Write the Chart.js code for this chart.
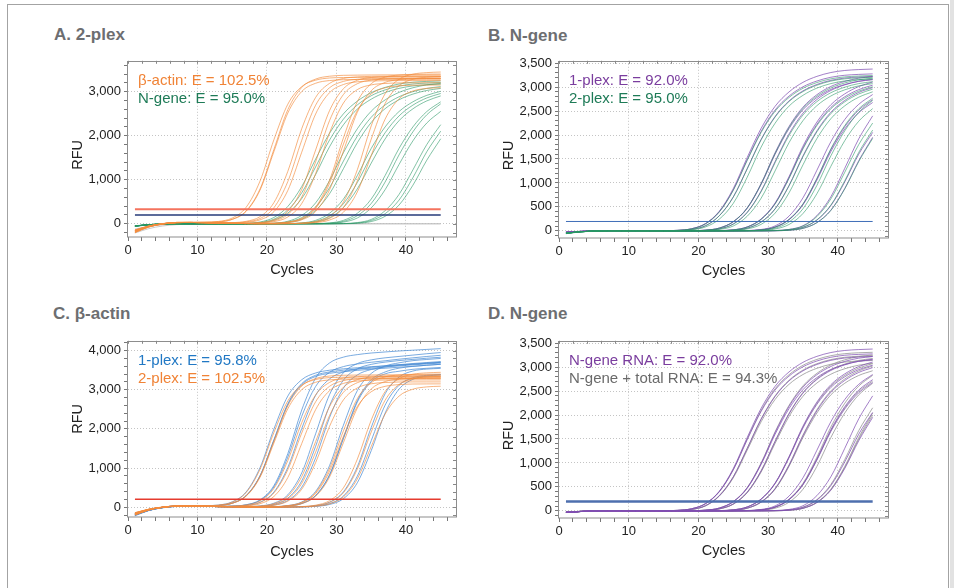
<!DOCTYPE html>
<html>
<head>
<meta charset="utf-8">
<title>qPCR amplification curves</title>
<script src="https://cdn.jsdelivr.net/npm/chart.js@4.4.1/dist/chart.umd.min.js"></script>
<style>
  html, body { margin: 0; padding: 0; background: #fff; }
  body { width: 954px; height: 588px; position: relative; overflow: hidden; font-family: "Liberation Sans", Arial, sans-serif; }
  .frame { position: absolute; left: 7px; top: 4px; width: 942px; height: 640px; border: 1.5px solid #a3a3a3; box-sizing: border-box; }
  .edge { position: absolute; left: 950px; top: 0; width: 4px; height: 588px; background: #e2e2e2; }
  .ttl { position: absolute; font-weight: bold; font-size: 17px; line-height: 17px; color: #6d6e71; white-space: nowrap; }
  canvas { position: absolute; }
</style>
</head>
<body>
<div class="frame"></div>
<div class="edge"></div>
<div class="ttl" style="left:54px;top:26px">A. 2-plex</div>
<div class="ttl" style="left:488px;top:27px">B. N-gene</div>
<div class="ttl" style="left:53px;top:305px">C. β-actin</div>
<div class="ttl" style="left:488px;top:305px">D. N-gene</div>
<canvas id="chartA" width="410" height="240" style="left:60px;top:50px"></canvas>
<canvas id="chartB" width="411" height="241" style="left:491px;top:50px"></canvas>
<canvas id="chartC" width="410" height="242" style="left:60px;top:330px"></canvas>
<canvas id="chartD" width="411" height="241" style="left:491px;top:330px"></canvas>
<script>
// ================================
// DATOS: ciclos y RFU de cada curva
// ================================
const cycles = [1,3,5,7,9,11,13,15,17,19,21,23,25,27,29,31,33,35,37,39,41,43,45];

// β-actin, 2-plex (paneles A y C)
const bActin2plex = [
  [-170,-60,0,30,32,37,53,130,375,970,1910,2715,3115,3260,3310,3320,3325,3325,3328,3330,3330,3330,3330],
  [-140,-50,5,30,33,34,43,100,282,765,1640,2515,3003,3190,3252,3271,3277,3278,3279,3280,3280,3280,3280],
  [-200,-75,-5,25,30,34,44,102,291,790,1690,2590,3095,3285,3350,3370,3375,3378,3380,3380,3380,3380,3380],
  [-160,-55,0,30,30,28,19,26,56,162,481,1191,2159,2868,3187,3299,3333,3347,3350,3350,3350,3350,3350],
  [-150,-55,0,28,30,26,18,22,43,120,365,959,1894,2692,3088,3232,3279,3294,3298,3300,3300,3300,3300],
  [-180,-65,-5,25,30,25,18,19,33,89,275,758,1625,2492,2976,3162,3223,3242,3248,3250,3250,3250,3250],
  [-160,-55,0,30,30,25,15,13,14,28,91,283,782,1675,2568,3066,3258,3321,3340,3347,3350,3350,3350],
  [-140,-50,5,30,30,25,15,12,11,21,68,212,608,1406,2341,2935,3180,3262,3288,3296,3300,3300,3300],
  [-190,-70,-5,25,30,25,15,11,9,16,49,155,460,1138,2063,2741,3046,3153,3185,3198,3200,3200,3200],
  [-160,-55,0,30,30,25,15,10,5,3,12,39,124,376,988,1951,2773,3181,3329,3377,3393,3398,3400],
  [-150,-55,0,30,30,25,15,10,5,3,9,28,90,279,770,1650,2530,3021,3210,3272,3291,3297,3300],
  [-200,-70,-5,25,30,25,15,10,5,3,11,36,115,349,916,1809,2571,2949,3087,3131,3146,3149,3150],
  [-170,-60,0,30,30,25,15,10,5,0,0,4,17,52,167,495,1226,2223,2953,3281,3396,3432,3445],
  [-150,-55,0,30,30,25,15,10,5,0,0,3,12,39,122,370,973,1922,2732,3134,3280,3328,3343],
  [-190,-70,-5,25,30,25,15,10,5,0,0,3,8,26,85,262,723,1550,2376,2837,3014,3073,3090]
];

// β-actin, 1-plex (panel C)
const bActin1plex = [
  [-200,-80,-10,25,32,38,55,137,390,1011,1997,2839,3256,3428,3498,3534,3562,3590,3610,3635,3655,3680,3700],
  [-160,-65,-5,28,30,34,44,104,297,805,1724,2644,3157,3369,3454,3499,3530,3550,3580,3610,3635,3660,3680],
  [-220,-85,-15,20,28,34,44,103,294,798,1709,2621,3130,3340,3420,3460,3495,3525,3550,3575,3600,3625,3650],
  [-180,-70,-5,25,30,25,20,29,63,187,553,1369,2482,3298,3684,3833,3897,3938,3965,3990,4010,4030,4050],
  [-170,-65,-5,28,30,25,19,27,60,175,517,1280,2320,3083,3446,3591,3658,3702,3740,3780,3815,3850,3880],
  [-200,-80,-10,25,30,25,18,23,45,127,387,1017,2009,2856,3276,3454,3529,3575,3610,3640,3670,3695,3720],
  [-180,-70,-5,28,30,25,15,13,15,32,102,317,875,1875,2875,3433,3668,3763,3815,3851,3885,3920,3950],
  [-160,-60,0,30,30,25,15,12,12,23,75,234,672,1555,2589,3246,3532,3648,3706,3745,3775,3805,3830],
  [-210,-80,-10,25,30,25,15,11,9,17,54,172,510,1262,2289,3040,3378,3517,3584,3625,3650,3675,3700],
  [-190,-75,-5,25,30,25,15,10,5,3,13,42,133,404,1061,2095,2977,3415,3605,3687,3743,3773,3800],
  [-170,-65,0,28,30,25,15,10,5,3,10,30,97,300,828,1775,2722,3250,3454,3551,3596,3627,3650],
  [-200,-75,-10,25,30,25,15,10,5,3,10,30,95,296,817,1751,2684,3205,3406,3472,3522,3548,3570],
  [-180,-70,-5,28,30,25,15,10,5,0,0,3,13,41,129,393,1032,2038,2897,3323,3478,3528,3545],
  [-160,-60,0,30,30,25,15,10,5,0,0,3,9,29,93,287,793,1700,2606,3112,3306,3370,3390],
  [-200,-80,-10,25,30,25,15,10,5,0,0,2,6,22,70,218,624,1444,2404,3014,3266,3350,3377]
];

// N-gene, 2-plex (paneles A y B)
const nGene2plex = [
  [-60,-25,-8,0,0,0,0,1,10,41,144,394,845,1469,2054,2496,2784,2976,3096,3173,3214,3232,3243],
  [-50,-20,-5,0,0,0,0,0,6,28,105,314,703,1292,1900,2375,2698,2907,3040,3126,3173,3195,3206],
  [-55,-22,-6,0,0,0,0,0,4,20,80,244,573,1119,1748,2247,2604,2829,2980,3074,3130,3157,3170],
  [-50,-20,-5,0,0,0,0,0,0,2,13,57,190,475,979,1615,2157,2556,2812,2983,3088,3154,3187],
  [-45,-18,-5,0,0,0,0,0,0,1,9,40,140,381,818,1423,1990,2418,2697,2883,2999,3074,3114],
  [-50,-20,-5,0,0,0,0,0,0,0,6,28,101,304,681,1251,1840,2300,2613,2815,2944,3027,3073],
  [-50,-20,-5,0,0,0,0,0,0,0,0,4,19,78,239,561,1095,1711,2199,2548,2769,2916,3008],
  [-50,-20,-5,0,0,0,0,0,0,0,0,2,13,55,182,455,937,1547,2066,2448,2694,2857,2958],
  [-50,-20,-5,0,0,0,0,0,0,0,0,1,9,39,135,369,792,1377,1926,2340,2610,2790,2903],
  [-50,-20,-5,0,0,0,0,0,0,0,0,0,0,4,19,78,239,561,1095,1711,2199,2548,2769],
  [-50,-20,-5,0,0,0,0,0,0,0,0,0,0,2,13,55,184,460,948,1564,2088,2475,2723],
  [-50,-20,-5,0,0,0,0,0,0,0,0,0,0,1,9,38,132,361,774,1346,1883,2288,2552],
  [-50,-20,-5,0,0,0,0,0,0,0,0,0,0,0,0,5,27,99,297,666,1224,1800,2250],
  [-50,-20,-5,0,0,0,0,0,0,0,0,0,0,0,0,4,18,75,229,537,1047,1637,2103],
  [-50,-20,-5,0,0,0,0,0,0,0,0,0,0,0,0,2,12,51,170,425,876,1445,1930]
];

// N-gene, 1-plex / N-gene RNA (paneles B y D)
const nGene1plex = [
  [-30,-15,-5,0,0,0,0,1,10,43,150,410,880,1530,2140,2600,2900,3100,3225,3305,3348,3367,3378],
  [-35,-15,-5,0,0,0,0,1,10,42,146,398,854,1484,2076,2522,2813,3007,3128,3206,3248,3266,3277],
  [-30,-12,-4,0,0,0,0,0,6,29,105,315,707,1299,1910,2388,2712,2922,3056,3142,3190,3212,3223],
  [-30,-15,-5,0,0,0,0,0,0,2,13,58,192,480,989,1632,2179,2582,2842,3014,3120,3187,3221],
  [-35,-15,-5,0,0,0,0,0,0,2,13,56,188,470,968,1598,2134,2529,2782,2952,3055,3121,3154],
  [-30,-12,-4,0,0,0,0,0,0,1,9,41,142,387,832,1446,2022,2457,2741,2930,3048,3123,3164],
  [-30,-15,-5,0,0,0,0,0,0,0,0,4,20,81,247,580,1131,1767,2271,2632,2860,3012,3107],
  [-35,-15,-5,0,0,0,0,0,0,0,0,4,20,79,242,567,1107,1730,2223,2576,2799,2948,3041],
  [-30,-12,-4,0,0,0,0,0,0,0,0,2,13,55,184,460,948,1564,2088,2475,2723,2889,2990],
  [-30,-15,-5,0,0,0,0,0,0,0,0,0,0,6,28,102,307,688,1265,1860,2325,2641,2846],
  [-35,-15,-5,0,0,0,0,0,0,0,0,0,0,4,19,77,237,555,1083,1693,2175,2521,2739],
  [-30,-12,-4,0,0,0,0,0,0,0,0,0,0,4,19,76,231,543,1059,1655,2127,2465,2679],
  [-30,-15,-5,0,0,0,0,0,0,0,0,0,0,0,0,6,29,106,317,710,1306,1920,2400],
  [-35,-15,-5,0,0,0,0,0,0,0,0,0,0,0,0,3,18,73,224,525,1023,1600,2055],
  [-30,-12,-4,0,0,0,0,0,0,0,0,0,0,0,0,2,12,52,172,430,886,1462,1952]
];

// N-gene + total RNA (panel D)
const nGeneTotalRNA = [
  [-30,-15,-5,0,0,0,0,1,10,42,147,402,862,1499,2097,2548,2842,3038,3161,3239,3281,3300,3310],
  [-35,-15,-5,0,0,0,0,0,6,29,106,317,710,1306,1920,2400,2726,2938,3072,3158,3206,3228,3240],
  [-30,-12,-4,0,0,0,0,0,6,28,102,307,688,1265,1860,2325,2641,2846,2976,3060,3106,3128,3139],
  [-30,-15,-5,0,0,0,0,0,0,2,14,58,194,485,999,1649,2202,2609,2871,3046,3153,3220,3254],
  [-35,-15,-5,0,0,0,0,0,0,1,10,41,143,390,836,1454,2033,2470,2755,2945,3064,3140,3181],
  [-30,-12,-4,0,0,0,0,0,0,1,9,40,138,377,810,1408,1969,2392,2668,2852,2967,3041,3080],
  [-30,-15,-5,0,0,0,0,0,0,0,0,4,20,80,244,573,1119,1748,2247,2604,2829,2980,3074],
  [-35,-15,-5,0,0,0,0,0,0,0,0,2,13,56,186,465,958,1581,2111,2502,2753,2920,3023],
  [-30,-12,-4,0,0,0,0,0,0,0,0,2,13,54,180,450,927,1530,2043,2421,2664,2826,2925],
  [-30,-15,-5,0,0,0,0,0,0,0,0,0,0,4,20,80,244,573,1119,1748,2247,2604,2829],
  [-35,-15,-5,0,0,0,0,0,0,0,0,0,0,4,19,77,234,549,1071,1674,2151,2493,2709],
  [-30,-12,-4,0,0,0,0,0,0,0,0,0,0,2,13,54,180,450,927,1530,2043,2421,2664],
  [-30,-15,-5,0,0,0,0,0,0,0,0,0,0,0,0,4,19,77,234,549,1071,1674,2151],
  [-35,-15,-5,0,0,0,0,0,0,0,0,0,0,0,0,2,13,54,180,450,927,1530,2043],
  [-30,-12,-4,0,0,0,0,0,0,0,0,0,0,0,0,2,12,53,176,440,906,1496,1998]
];

// controles sin molde (panel A)
const ntcA = [
  [-210,-110,-50,-20,-8,-3,0,0,0,0,0,0,0,0,0,0,0,0,0,0,0,0,0],
  [-120,-60,-25,-10,-5,-2,0,0,0,0,0,0,0,0,0,0,0,0,0,0,0,0,0]
];

// umbrales (RFU)
const thresholdA = [330, 200];
const thresholdB = [195];
const thresholdC = [205];
const thresholdD = [195];

// ejes
const xRange = [0, 47.2];
const yRangeA = [-300, 3700];
const yRangeB = [-150, 3550];
const yRangeC = [-250, 4250];
const yRangeD = [-150, 3550];

// ================================
// ESTILO
// ================================
Chart.defaults.font.family = "'Liberation Sans', Arial, sans-serif";
Chart.defaults.font.size = 13;
Chart.defaults.color = '#222';

const LINE = {
  orange: 'rgba(243,140,60,0.66)',
  green: 'rgba(40,150,100,0.58)',
  purple: 'rgba(128,78,178,0.72)',
  blue: 'rgba(70,138,212,0.72)',
  gray: 'rgba(150,150,150,0.8)',
  ntc: 'rgba(190,190,190,0.8)'
};
const TEXT = {
  orange: '#f08336',
  green: '#1e7b57',
  purple: '#7a3d9e',
  blue: '#2178c4',
  gray: '#6a6a6a'
};

function curveSets(curves, color) {
  return curves.map(ys => ({
    data: ys.map((y, i) => ({ x: cycles[i], y: y })),
    borderColor: color,
    borderWidth: 1,
    pointRadius: 0,
    fill: false,
    cubicInterpolationMode: 'monotone'
  }));
}

function thresholdSet(level, color, width) {
  return {
    data: [{ x: cycles[0], y: level }, { x: cycles[cycles.length - 1], y: level }],
    borderColor: color,
    borderWidth: width,
    pointRadius: 0,
    fill: false
  };
}

function tickValues(min, max, step) {
  const out = [];
  for (let v = Math.ceil(min / step) * step; v <= max; v += step) out.push({ value: v });
  return out;
}

// marco del área de trazado, marcas interiores arriba/derecha y leyenda
function panelDeco(lines) {
  return {
    id: 'panelDeco',
    afterDraw(chart) {
      const { ctx, chartArea: a, scales } = chart;
      ctx.save();
      ctx.strokeStyle = '#8d8d8d';
      ctx.lineWidth = 1;
      ctx.strokeRect(Math.round(a.left) - 0.5, Math.round(a.top) + 0.5,
                     Math.round(a.right - a.left) + 1, Math.round(a.bottom - a.top) - 0.5);
      ctx.strokeStyle = '#888';
      ctx.beginPath();
      scales.x.ticks.forEach(t => {
        const px = Math.round(scales.x.getPixelForValue(t.value)) + 0.5;
        ctx.moveTo(px, a.top); ctx.lineTo(px, a.top + 3);
      });
      scales.y.ticks.forEach(t => {
        const py = Math.round(scales.y.getPixelForValue(t.value)) + 0.5;
        ctx.moveTo(a.right, py); ctx.lineTo(a.right - 3, py);
      });
      ctx.stroke();
      ctx.font = "15px 'Liberation Sans', Arial, sans-serif";
      ctx.textBaseline = 'alphabetic';
      lines.forEach((l, i) => {
        ctx.fillStyle = l.color;
        ctx.fillText(l.text, a.left + 10, a.top + 24.5 + i * 17.5);
      });
      ctx.restore();
    }
  };
}

function makeChart(id, cfg) {
  new Chart(document.getElementById(id), {
    type: 'line',
    data: { datasets: cfg.datasets },
    options: {
      responsive: false,
      animation: false,
      events: [],
      layout: { padding: { top: 9, right: 14, left: 0, bottom: 0 } },
      plugins: { legend: { display: false }, tooltip: { enabled: false } },
      scales: {
        x: {
          type: 'linear', min: xRange[0], max: xRange[1],
          afterBuildTicks: s => { s.ticks = tickValues(0, s.max, 2); },
          afterFit: s => { s.height = cfg.xH; },
          ticks: {
            autoSkip: false, maxRotation: 0, padding: 2, color: '#222', font: { size: 13 },
            callback: v => (v % 10 === 0 ? String(v) : '')
          },
          grid: {
            color: c => (c.tick && c.tick.value % 10 === 0 && c.tick.value > 0) ? '#c4c4c4' : 'rgba(0,0,0,0)',
            tickColor: '#777', tickLength: 4, lineWidth: 1
          },
          border: { display: false, dash: [1, 2] },
          title: { display: true, text: 'Cycles', color: '#222', font: { size: 14.5 }, padding: { top: 0, bottom: 11 } }
        },
        y: {
          type: 'linear', min: cfg.yRange[0], max: cfg.yRange[1],
          afterBuildTicks: s => { s.ticks = tickValues(s.min, s.max, cfg.yMinor); },
          afterFit: s => { s.width = 68; },
          ticks: {
            autoSkip: false, padding: 3, color: '#222', font: { size: 13 },
            callback: v => (v % cfg.yMajor === 0 ? v.toLocaleString('en-US') : '')
          },
          grid: {
            color: c => (c.tick && c.tick.value % cfg.yMajor === 0) ? '#c4c4c4' : 'rgba(0,0,0,0)',
            tickColor: '#777', tickLength: 4, lineWidth: 1
          },
          border: { display: false, dash: [1, 2] },
          title: { display: true, text: cfg.yTitle, color: '#222', font: { size: 14.5 }, padding: { top: 9, bottom: 0 } }
        }
      }
    },
    plugins: [panelDeco(cfg.key)]
  });
}

// ================================
// A. 2-plex
// ================================
makeChart('chartA', {
  xH: 53, yRange: yRangeA, yMinor: 200, yMajor: 1000, yTitle: 'RFU   ',
  key: [
    { text: 'β-actin: E = 102.5%', color: TEXT.orange },
    { text: 'N-gene: E = 95.0%', color: TEXT.green }
  ],
  datasets: [
    thresholdSet(thresholdA[0], '#f4735e', 2),
    thresholdSet(thresholdA[1], '#263a78', 1.5),
    ...curveSets(bActin2plex, LINE.orange),
    ...curveSets(nGene2plex, LINE.green),
    ...curveSets(ntcA, LINE.ntc)
  ]
});

// ================================
// B. N-gene
// ================================
makeChart('chartB', {
  xH: 53, yRange: yRangeB, yMinor: 100, yMajor: 500, yTitle: 'RFU   ',
  key: [
    { text: '1-plex: E = 92.0%', color: TEXT.purple },
    { text: '2-plex: E = 95.0%', color: TEXT.green }
  ],
  datasets: [
    thresholdSet(thresholdB[0], '#3f6db8', 1),
    ...curveSets(nGene2plex, LINE.green),
    ...curveSets(nGene1plex, LINE.purple)
  ]
});

// ================================
// C. β-actin
// ================================
makeChart('chartC', {
  xH: 55, yRange: yRangeC, yMinor: 200, yMajor: 1000, yTitle: '     RFU',
  key: [
    { text: '1-plex: E = 95.8%', color: TEXT.blue },
    { text: '2-plex: E = 102.5%', color: TEXT.orange }
  ],
  datasets: [
    thresholdSet(thresholdC[0], '#e53b2e', 1.5),
    ...curveSets(bActin2plex, LINE.orange),
    ...curveSets(bActin1plex, LINE.blue)
  ]
});

// ================================
// D. N-gene
// ================================
makeChart('chartD', {
  xH: 53, yRange: yRangeD, yMinor: 100, yMajor: 500, yTitle: 'RFU   ',
  key: [
    { text: 'N-gene RNA: E = 92.0%', color: TEXT.purple },
    { text: 'N-gene + total RNA: E = 94.3%', color: TEXT.gray }
  ],
  datasets: [
    thresholdSet(thresholdD[0], '#4e6fae', 2.5),
    ...curveSets(nGene1plex, LINE.purple),
    ...curveSets(nGeneTotalRNA, LINE.gray)
  ]
});
</script>
</body>
</html>
